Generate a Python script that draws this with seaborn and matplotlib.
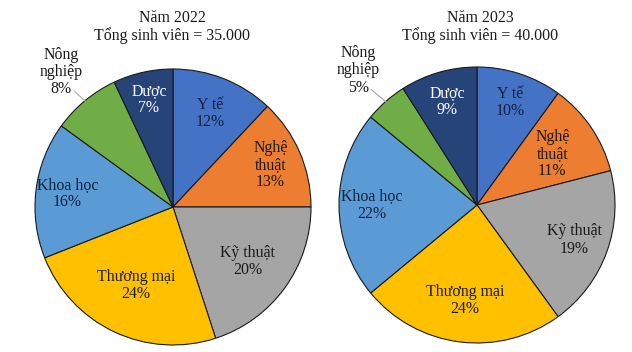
import numpy as np
import matplotlib
matplotlib.use("Agg")
import matplotlib.pyplot as plt
import seaborn as sns

categories = ["Y tế", "Nghệ\nthuật", "Kỹ thuật", "Thương mại", "Khoa học", "Nông\nnghiệp", "Dược"]
values_2022 = [12, 13, 20, 24, 16, 8, 7]
values_2023 = [10, 11, 19, 24, 22, 5, 9]
titles = ["Năm 2022\nTổng sinh viên = 35.000", "Năm 2023\nTổng sinh viên = 40.000"]

colors = ["#4472C4", "#ED7D31", "#A5A5A5", "#FFC000", "#5B9BD5", "#70AD47", "#264478"]
text_colors = ["#14213D", "#1a1a1a", "#1a1a1a", "#1a1a1a", "#14213D", "#1a1a1a", "white"]

# radial positions of labels (fraction of radius)
label_r_2022 = [0.73, 0.77, 0.67, 0.63, 0.77, 1.27, 0.80]
label_r_2023 = [0.78, 0.66, 0.75, 0.70, 0.76, 1.30, 0.78]

sns.set_style("white")
plt.rcParams["font.family"] = ["Liberation Serif", "DejaVu Serif"]

W, H = 632, 352
fig = plt.figure(figsize=(W / 100, H / 100), dpi=100)
palette = sns.color_palette(colors)

R = 138
centers = [(173, 207), (477, 205)]
title_x = [172, 480]
FS = 11.4

for idx, (vals, lr, (cx, cy)) in enumerate(zip([values_2022, values_2023],
                                              [label_r_2022, label_r_2023], centers)):
    ax = fig.add_axes([(cx - R) / W, (H - cy - R) / H, 2 * R / W, 2 * R / H])
    wedges, _ = ax.pie(vals, colors=palette, startangle=90, counterclock=False,
                       radius=1.0,
                       wedgeprops=dict(edgecolor="#1a1a1a", linewidth=0.8))
    ax.set_xlim(-1, 1)
    ax.set_ylim(-1, 1)
    ax.set_aspect("equal")
    ax.axis("off")
    total = sum(vals)
    cum = np.cumsum([0] + vals)
    for i, cat in enumerate(categories):
        mid = (cum[i] + cum[i + 1]) / 2 / total
        ang = np.deg2rad(90 - 360 * mid)
        x, y = lr[i] * np.cos(ang), lr[i] * np.sin(ang)
        label = f"{cat}\n{vals[i]}%"
        if lr[i] > 1:
            ex, ey = np.cos(ang), np.sin(ang)
            ax.annotate(label, xy=(ex * 0.99, ey * 0.99), xytext=(x, y),
                        ha="center", va="center", fontsize=FS,
                        color=text_colors[i], linespacing=1.1,
                        annotation_clip=False,
                        arrowprops=dict(arrowstyle="-", color="#A6A6A6", lw=0.8,
                                        patchA=None, shrinkA=0, shrinkB=0,
                                        relpos=(0.8, 0.12)))
        else:
            ax.text(x, y, label, ha="center", va="center", fontsize=FS,
                    color=text_colors[i], linespacing=1.1)
    fig.text(title_x[idx] / W, 1 - 27 / H, titles[idx], ha="center", va="center",
             fontsize=FS, color="#1a1a1a", linespacing=1.1)

fig.savefig("out.png", dpi=100)
